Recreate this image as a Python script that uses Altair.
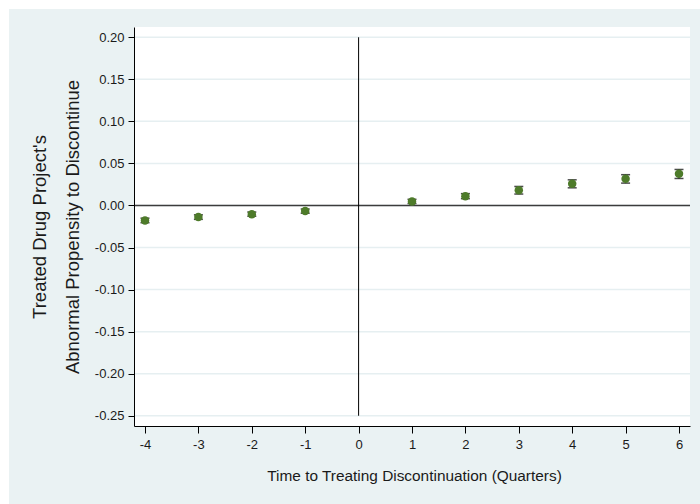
import altair as alt
import pandas as pd

# ---- data ----
quarters = [-4, -3, -2, -1, 1, 2, 3, 4, 5, 6]
estimates = [-0.0178, -0.0138, -0.0103, -0.0067, 0.0048, 0.0111, 0.0182, 0.0258, 0.0317, 0.0377]
ci_low = [-0.0205, -0.0165, -0.0128, -0.0092, 0.0023, 0.0081, 0.0136, 0.0210, 0.0266, 0.0321]
ci_high = [-0.0151, -0.0111, -0.0078, -0.0042, 0.0073, 0.0141, 0.0226, 0.0305, 0.0366, 0.0428]
x_ticks = [-4, -3, -2, -1, 0, 1, 2, 3, 4, 5, 6]
y_ticks = [-0.25, -0.20, -0.15, -0.10, -0.05, 0.00, 0.05, 0.10, 0.15, 0.20]
x_title = "Time to Treating Discontinuation (Quarters)"
y_title = ["Treated Drug Project's", "Abnormal Propensity to Discontinue"]

df = pd.DataFrame({"q": quarters, "est": estimates, "lo": ci_low, "hi": ci_high})
grid_df = pd.DataFrame({"v": y_ticks})
zero_df = pd.DataFrame({"x": [0], "y": [0.0], "top": [0.20], "bottom": [-0.25]})
one = pd.DataFrame({"a": [0]})

W, H = 556, 399
FONT = "Liberation Sans"
TXT = "#1a1a1a"
BG = "#EAF2F3"

xscale = alt.Scale(domain=[-4.206, 6.206], nice=False, zero=False)
yscale = alt.Scale(domain=[-0.2622, 0.2122], nice=False, zero=False)

neg_fmt_x = "datum.value < 0 ? '-' + format(-datum.value, 'd') : format(datum.value, 'd')"
neg_fmt_y = "datum.value < -0.0001 ? '-' + format(-datum.value, '.2f') : format(abs(datum.value), '.2f')"

x_axis = alt.Axis(
    values=x_ticks,
    labelExpr=neg_fmt_x,
    title=x_title,
    titleX=W / 2 + 2,
    titleY=49,
    titleBaseline="middle",
    titleAnchor="middle",
    titleAlign="center",
    titleFontSize=15.4,
    labelPadding=5,
    tickSize=7,
    grid=False,
    zindex=1,
)
y_axis = alt.Axis(
    values=y_ticks,
    labelExpr=neg_fmt_y,
    title=y_title,
    titleLineHeight=33,
    titleAngle=-90,
    titleX=-95,
    titleY=H / 2,
    titleAlign="center",
    titleBaseline="middle",
    titleFontSize=18.5,
    labelPadding=4,
    tickSize=6,
    grid=False,
    zindex=1,
)

# decorative panels: outer light-blue frame and the white plot region
outer = alt.Chart(one).mark_rect(color=BG).encode(
    x=alt.value(-125), x2=alt.value(W + 10), y=alt.value(-18), y2=alt.value(H + 78)
)
inner = alt.Chart(one).mark_rect(color="white").encode(
    x=alt.value(0), x2=alt.value(W), y=alt.value(0), y2=alt.value(H)
)

grid = alt.Chart(grid_df).mark_rule(color="#E6EFF1", strokeWidth=1.5).encode(
    y=alt.Y("v:Q", scale=yscale, axis=y_axis)
)

zero_h = alt.Chart(zero_df).mark_rule(color="#3c3c3c", strokeWidth=1.5).encode(
    y=alt.Y("y:Q", scale=yscale, axis=y_axis)
)
zero_v = alt.Chart(zero_df).mark_rule(color="black", strokeWidth=1).encode(
    x=alt.X("x:Q", scale=xscale, axis=x_axis),
    y=alt.Y("top:Q", scale=yscale, axis=y_axis),
    y2="bottom:Q",
)

bars = alt.Chart(df).mark_errorbar(
    color="black", thickness=1, ticks=alt.TickConfig(size=9, thickness=1.5, color="black")
).encode(
    x=alt.X("q:Q", scale=xscale, axis=x_axis),
    y=alt.Y("lo:Q", scale=yscale, axis=y_axis),
    y2="hi:Q",
)

points = alt.Chart(df).mark_circle(color="#4E7B2A", opacity=1, size=72).encode(
    x=alt.X("q:Q", scale=xscale, axis=x_axis),
    y=alt.Y("est:Q", scale=yscale, axis=y_axis),
)

chart = (
    alt.layer(outer, inner, grid, zero_h, zero_v, bars, points)
    .properties(
        width=W,
        height=H,
        padding={"left": 134, "top": 27, "right": 10, "bottom": 78},
        autosize=alt.AutoSizeParams(type="none"),
    )
    .configure(background="white")
    .configure_view(stroke=None)
    .configure_axis(
        labelFont=FONT,
        titleFont=FONT,
        labelFontSize=13,
        titleFontSize=14.8,
        titleFontWeight="normal",
        labelColor=TXT,
        titleColor=TXT,
        domainColor="black",
        tickColor="black",
        domainWidth=1,
        tickWidth=1,
    )
)

chart.save("out.html", embed_options={"renderer": "svg", "actions": False})
